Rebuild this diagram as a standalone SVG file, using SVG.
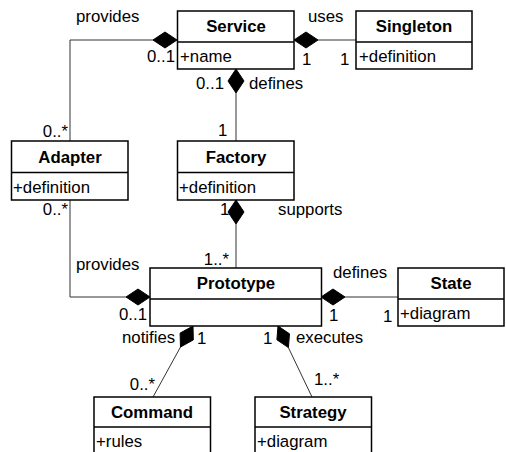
<svg xmlns="http://www.w3.org/2000/svg" width="506" height="452" viewBox="0 0 506 452">
<style>
.box{fill:#fff;stroke:#000;stroke-width:1.5}
.div{stroke:#000;stroke-width:1.5}
.t{font-family:"Liberation Sans",Arial,sans-serif;font-size:16.8px;fill:#000}
.h{font-weight:bold;text-anchor:middle}
.c{fill:none;stroke:#333;stroke-width:1}
.d{fill:#000;stroke:#000;stroke-width:1}
.r{text-anchor:end}
</style>
<rect width="506" height="452" fill="#fff"/>
<g id="connectors">
<polyline class="c" points="153,40 70,40 70,141"/>
<polygon class="d" points="177,40 165,32 153,40 165,48"/>
<line class="c" x1="318" y1="40" x2="356" y2="40"/>
<polygon class="d" points="294,40 306,32 318,40 306,48"/>
<line class="c" x1="236" y1="93" x2="236" y2="141"/>
<polygon class="d" points="236,69 228,81 236,93 244,81"/>
<line class="c" x1="236" y1="224" x2="236" y2="268"/>
<polygon class="d" points="236,200 228,212 236,224 244,212"/>
<polyline class="c" points="126,297 70,297 70,200"/>
<polygon class="d" points="150,297 138,289 126,297 138,305"/>
<line class="c" x1="345" y1="297" x2="398" y2="297"/>
<polygon class="d" points="321,297 333,289 345,297 333,305"/>
<line class="c" x1="180.5" y1="347" x2="153" y2="397"/>
<polygon class="d" points="193,326 193.3,339.9 180.5,347 180.1,333.1"/>
<line class="c" x1="288.4" y1="347.6" x2="312" y2="397"/>
<polygon class="d" points="278,326 289.5,333.8 288.4,347.6 276.9,339.8"/>
<text class="t" x="76" y="22">provides</text>
<text class="t r" x="175" y="62">0..1</text>
<text class="t r" x="224" y="89">0..1</text>
<text class="t" x="249" y="89">defines</text>
<text class="t" x="308" y="22">uses</text>
<text class="t" x="302" y="65">1</text>
<text class="t" x="340" y="65">1</text>
<text class="t r" x="68" y="137">0..*</text>
<text class="t" x="218" y="136">1</text>
<text class="t r" x="68" y="215">0..*</text>
<text class="t" x="220" y="215">1</text>
<text class="t" x="278" y="215">supports</text>
<text class="t r" x="229" y="265">1..*</text>
<text class="t" x="76" y="270">provides</text>
<text class="t r" x="147" y="320">0..1</text>
<text class="t" x="333" y="278">defines</text>
<text class="t" x="329" y="321">1</text>
<text class="t" x="383" y="322">1</text>
<text class="t" x="122" y="343">notifies</text>
<text class="t" x="197" y="344">1</text>
<text class="t r" x="155" y="390">0..*</text>
<text class="t" x="263" y="344">1</text>
<text class="t" x="296" y="343">executes</text>
<text class="t" x="314" y="385">1..*</text>
</g>
<g id="Service">
<rect class="box" x="177.5" y="11" width="116.5" height="58"/>
<line class="div" x1="177.5" y1="42" x2="294" y2="42"/>
<text class="t h" x="236" y="32">Service</text>
<text class="t" x="180" y="62">+name</text>
</g>
<g id="Singleton">
<rect class="box" x="356" y="11" width="116" height="58"/>
<line class="div" x1="356" y1="42" x2="472" y2="42"/>
<text class="t h" x="414" y="32">Singleton</text>
<text class="t" x="359" y="62">+definition</text>
</g>
<g id="Adapter">
<rect class="box" x="11.5" y="141" width="116.5" height="59"/>
<line class="div" x1="11.5" y1="172.5" x2="128" y2="172.5"/>
<text class="t h" x="70" y="163">Adapter</text>
<text class="t" x="13" y="193">+definition</text>
</g>
<g id="Factory">
<rect class="box" x="177.5" y="141" width="116.5" height="59"/>
<line class="div" x1="177.5" y1="172.5" x2="294" y2="172.5"/>
<text class="t h" x="236" y="163">Factory</text>
<text class="t" x="179" y="193">+definition</text>
</g>
<g id="Prototype">
<rect class="box" x="150" y="268" width="171.5" height="58"/>
<line class="div" x1="150" y1="299" x2="321.5" y2="299"/>
<text class="t h" x="236" y="289">Prototype</text>
</g>
<g id="State">
<rect class="box" x="398" y="268" width="106" height="58"/>
<line class="div" x1="398" y1="299" x2="504" y2="299"/>
<text class="t h" x="451" y="289">State</text>
<text class="t" x="400" y="319">+diagram</text>
</g>
<g id="Command">
<rect class="box" x="94" y="397" width="116.5" height="60"/>
<line class="div" x1="94" y1="427" x2="210.5" y2="427"/>
<text class="t h" x="152" y="418">Command</text>
<text class="t" x="96" y="447">+rules</text>
</g>
<g id="Strategy">
<rect class="box" x="255" y="397" width="116.5" height="60"/>
<line class="div" x1="255" y1="427" x2="371.5" y2="427"/>
<text class="t h" x="313" y="418">Strategy</text>
<text class="t" x="257" y="447">+diagram</text>
</g>
</svg>
